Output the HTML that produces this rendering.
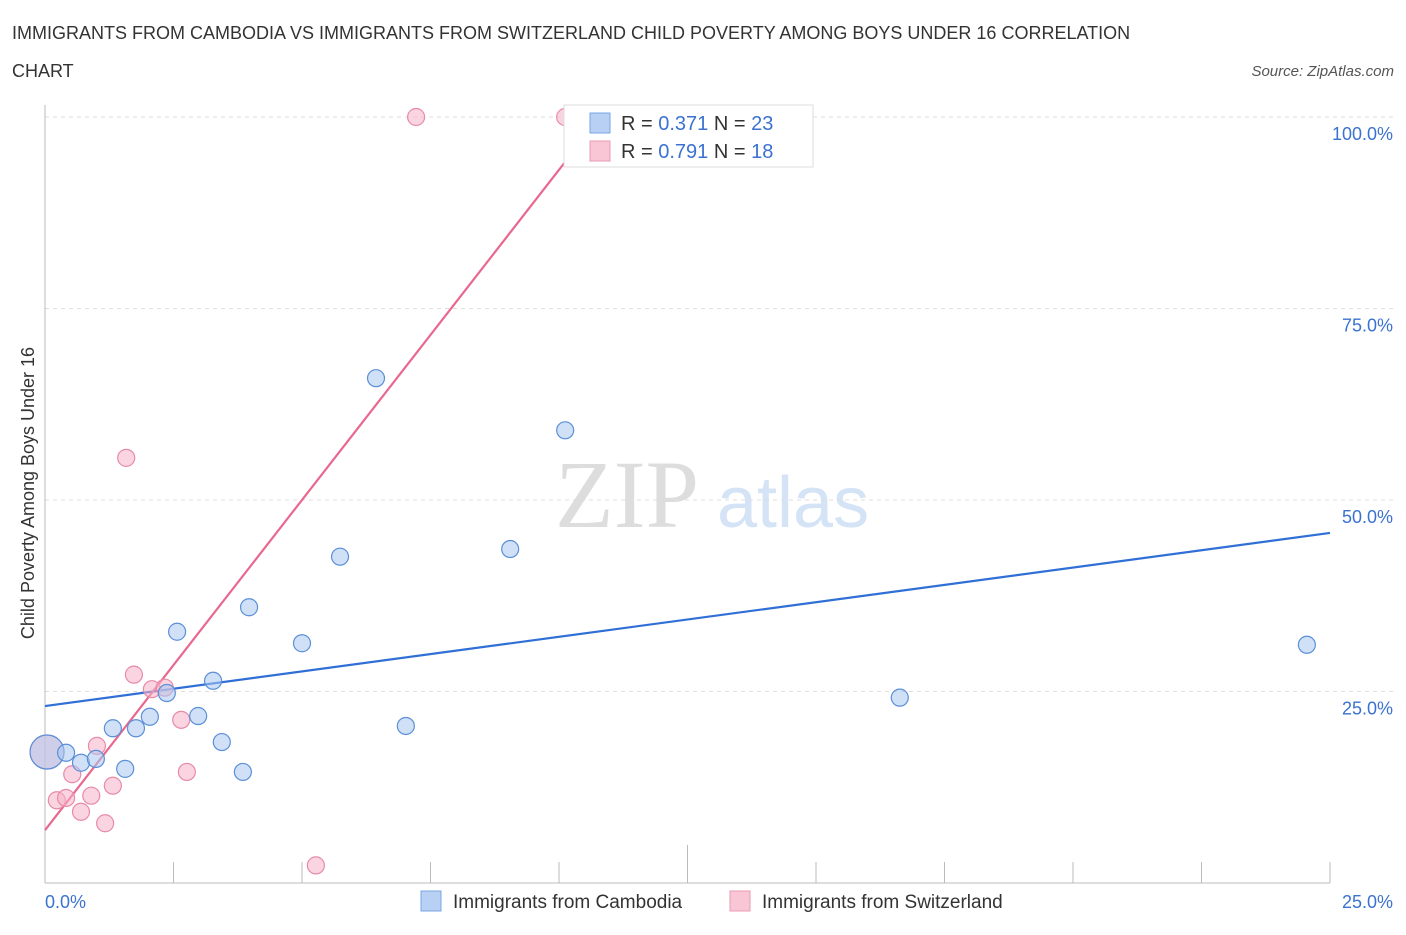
<!DOCTYPE html>
<html><head><meta charset="utf-8"><style>
body{margin:0;background:#fff;font-family:"Liberation Sans",sans-serif;}
</style></head><body>
<svg id="chart" width="1406" height="930" xmlns="http://www.w3.org/2000/svg" font-family="Liberation Sans, sans-serif">
<text x="12" y="39" font-size="18" fill="#333">IMMIGRANTS FROM CAMBODIA VS IMMIGRANTS FROM SWITZERLAND CHILD POVERTY AMONG BOYS UNDER 16 CORRELATION</text>
<text x="12" y="77" font-size="18" fill="#333">CHART</text>
<text x="1394" y="76" font-size="15" fill="#555" font-style="italic" text-anchor="end">Source: ZipAtlas.com</text>
<text x="555" y="527" font-size="96" fill="#ddd" font-family="Liberation Serif, serif">ZIP</text>
<text x="717" y="527" font-size="72" fill="#d4e3f5">atlas</text>
<text transform="translate(34,493) rotate(-90)" font-size="18" fill="#333" text-anchor="middle">Child Poverty Among Boys Under 16</text>
<g id="grid"></g><g id="lines"></g><g id="pts"></g>
<g>
<rect x="564" y="105" width="249" height="62" fill="#fff" stroke="#ddd"/>
<rect x="590" y="113" width="20" height="20" fill="#b8d0f3" stroke="#7aa6e6"/>
<rect x="590" y="141" width="20" height="20" fill="#f9c6d5" stroke="#eb9ab4"/>
<text x="621" y="130" font-size="20" fill="#333">R = <tspan fill="#3b72d1">0.371</tspan>   N = <tspan fill="#3b72d1">23</tspan></text>
<text x="621" y="158" font-size="20" fill="#333">R = <tspan fill="#3b72d1">0.791</tspan>   N = <tspan fill="#3b72d1"> 18</tspan></text>
</g>
<g>
<rect x="421" y="891" width="20" height="20" fill="#b8d0f3" stroke="#7aa6e6"/>
<text x="453" y="908" font-size="19" fill="#333">Immigrants from Cambodia</text>
<rect x="730" y="891" width="20" height="20" fill="#f9c6d5" stroke="#eb9ab4"/>
<text x="762" y="908" font-size="19" fill="#333">Immigrants from Switzerland</text>
</g>
</svg>
<script>
const blueX=[0.04,0.41,0.70,0.99,1.32,1.56,1.77,2.04,2.37,2.57,2.98,3.27,3.44,3.85,3.97,5.00,5.74,6.44,7.02,9.05,10.12,16.63,24.55];
const blueY=[17.1,17.0,15.7,16.2,20.2,14.9,20.2,21.7,24.8,32.8,21.8,26.4,18.4,14.5,36.0,31.3,42.6,65.9,20.5,43.6,59.1,24.2,31.1];
const pinkX=[0.04,0.23,0.41,0.53,0.70,0.90,1.01,1.17,1.32,1.58,1.73,2.08,2.33,2.65,2.76,5.27,7.22,10.12];
const pinkY=[17.1,10.8,11.1,14.2,9.3,11.4,17.9,7.8,12.7,55.5,27.2,25.3,25.5,21.3,14.5,2.3,100,100];
const blueLine=[[0,23.1],[25,45.7]];
const pinkLine=[[0,6.9],[10.8,100]];
const yTicks=[25,50,75,100];
const yTickLabels=["25.0%","50.0%","75.0%","100.0%"];
const xTickLabels=["0.0%","25.0%"];
const NS="http://www.w3.org/2000/svg";
const sx=v=>45+v*1285/25, sy=v=>883-v*7.66;
function mk(tag,attrs,parent){const e=document.createElementNS(NS,tag);for(const k in attrs)e.setAttribute(k,attrs[k]);document.getElementById(parent).appendChild(e);return e;}
yTicks.forEach((t,i)=>{
 const g=mk('line',{x1:45,x2:1395,y1:sy(t),y2:sy(t),stroke:'#ddd','stroke-dasharray':'4,4'},'grid');
 
 
 const l=mk('text',{x:1393,y:sy(t)+23,'font-size':18,fill:'#3b72d1','text-anchor':'end'},'grid');
 l.textContent=yTickLabels[i];
 
 
});
const ax=mk('line',{x1:45,x2:45,y1:105,y2:883,stroke:'#bbb'},'grid');


const bx=mk('line',{x1:45,x2:1330,y1:883,y2:883,stroke:'#bbb'},'grid');


for(let i=1;i<=10;i++){
 const t=mk('line',{x1:sx(i*2.5),x2:sx(i*2.5),y1:i==5?845:862,y2:883,stroke:'#bbb'},'grid');
 
 
}
[[0,'start',45],[1,'end',1393]].forEach(([i,a,x])=>{
 const l=mk('text',{x:x,y:908,'font-size':18,fill:'#3b72d1','text-anchor':a},'grid');
 l.textContent=xTickLabels[i];
 
 
});
function pts(X,Y,fill,stroke,name){
 X.forEach((x,i)=>{
  const c=mk('circle',{cx:sx(x),cy:sy(Y[i]),r:i==0?17:8.5,fill:fill,'fill-opacity':0.55,stroke:stroke,'stroke-width':1.2},'pts');
  
  
 });
}
pts(pinkX,pinkY,'#f5b3c8','#e88aa8','switzerland-point');
pts(blueX,blueY,'#a9c8f0','#5b8fd8','cambodia-point');
const bl=mk('line',{x1:sx(blueLine[0][0]),y1:sy(blueLine[0][1]),x2:sx(blueLine[1][0]),y2:sy(blueLine[1][1]),stroke:'#2f6fd6','stroke-width':2.2},'lines');


const pl=mk('line',{x1:sx(pinkLine[0][0]),y1:sy(pinkLine[0][1]),x2:sx(pinkLine[1][0]),y2:sy(pinkLine[1][1]),stroke:'#e8688f','stroke-width':2.2},'lines');


</script>
</body></html>
